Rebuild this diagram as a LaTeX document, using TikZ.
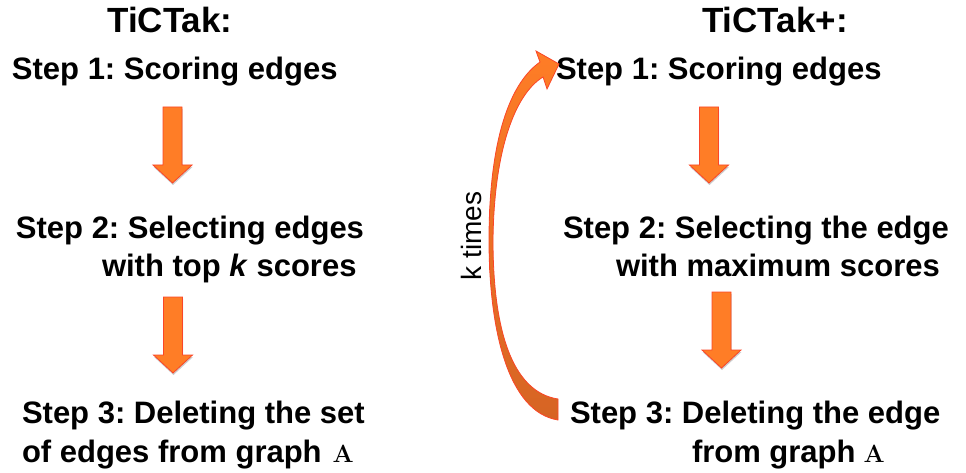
\documentclass[tikz,border=0pt]{standalone}
\usepackage[no-math]{fontspec}
\usetikzlibrary{shadows}
\setmainfont{Liberation Sans}
\frenchspacing
\definecolor{arrfill}{RGB}{255,125,38}
\definecolor{arredge}{RGB}{250,70,40}
\definecolor{arrdark}{RGB}{214,100,36}
\tikzset{
  every node/.style={inner sep=0pt, outer sep=0pt},
  steptext/.style={font=\fontsize{31}{37}\selectfont\bfseries},
  titletext/.style={font=\fontsize{35}{40}\selectfont\bfseries},
  looptext/.style={font=\fontsize{28}{32}\selectfont},
  softshadow/.style={drop shadow={opacity=0.2, shadow xshift=0.5pt, shadow yshift=-2pt, fill=black}},
  blockfill/.style={fill=arrfill, draw=arredge, line width=0.8pt, line join=miter, softshadow},
  pics/blockdown/.style={code={
    \path[blockfill] (-9.5,0) -- (9.5,0) -- (9.5,58) -- (19.5,58) -- (0,76)
      -- (-19.5,58) -- (-9.5,58) -- cycle;}}
}
\newcommand{\gA}{\fontsize{25}{28}\selectfont$\mathbf{A}$}
\begin{document}
\begin{tikzpicture}[x=1pt, y=-1pt]
\useasboundingbox (0,0) rectangle (966,473);
% left column
\node[titletext, anchor=base] (tl) at (170,33) {TiCTak:};
\node[steptext, anchor=base west] (l1) at (12,80) {Step 1: Scoring edges};
\node[steptext, anchor=base west] (l2a) at (16,238) {Step 2: Selecting edges};
\node[steptext, anchor=base west] (l2b) at (102,276) {with top \textit{k} scores};
\node[steptext, anchor=base west] (l3a) at (22,423) {Step 3: Deleting the set};
\node[steptext, anchor=base west] (l3b) at (22,462) {of edges from graph\hspace{11pt}\gA};
\pic at (172.5,107) {blockdown};
\pic at (173,297) {blockdown};
% right column
\node[titletext, anchor=base] (tr) at (775,33) {TiCTak+:};
\node[steptext, anchor=base west] (r1) at (556,80) {Step 1: Scoring edges};
\node[steptext, anchor=base west] (r2a) at (563,238) {Step 2: Selecting the edge};
\node[steptext, anchor=base west] (r2b) at (616,276) {with maximum scores};
\node[steptext, anchor=base west] (r3a) at (570,423) {Step 3: Deleting the edge};
\node[steptext, anchor=base west] (r3b) at (692,462) {from graph\hspace{8pt}\gA};
\pic at (709,107) {blockdown};
\pic at (721.5,292) {blockdown};
% loop arrow
\path[draw=arredge, line width=0.8pt, top color=arrfill, middle color=arrfill, bottom color=arrdark, shading angle=0]
  (558,420) .. controls (508,412) and (489,330) .. (489,240)
  .. controls (489,150) and (506,86) .. (540,62)
  -- (536,51) -- (559,64) -- (547,89) -- (543,77)
  .. controls (515,94) and (494,150) .. (493,240)
  .. controls (493,330) and (512,392) .. (558,399) -- cycle;
\node[looptext, rotate=90] (kt) at (471,236) {k times};
\end{tikzpicture}
\end{document}
